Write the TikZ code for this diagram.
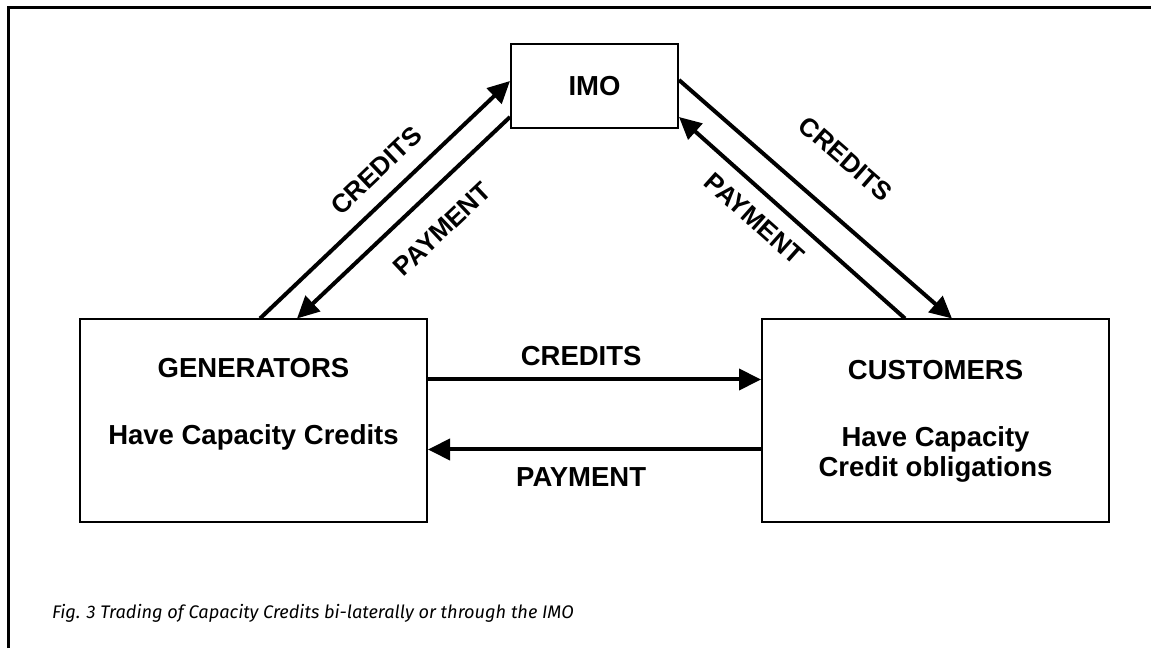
\documentclass[tikz,border=0pt]{standalone}
\usepackage{fontspec}
\setmainfont{Liberation Sans}
\newfontfamily\capfont{Fira Sans}
\usetikzlibrary{arrows.meta, positioning}

\begin{document}
\begin{tikzpicture}[
    x=1pt, y=1pt,
    >={Triangle[length=22pt, width=21pt]},
    on grid,
    font=\bfseries\fontsize{27.5}{30}\selectfont,
    party/.style={draw, line width=2pt, minimum width=347pt,
        minimum height=203pt, align=center},
    flow/.style={->, line width=4pt},
    tag/.style={inner sep=2pt},
    slanttag/.style={tag, sloped, font=\bfseries\fontsize{26}{30}\selectfont},
]
    \useasboundingbox (0,0) rectangle (1151,648);
    \draw[line width=2.5pt] (8.5,0) |- (1151,640.5);

    \node[party, minimum width=167pt, minimum height=84pt] (imo) at (594.5,562) {IMO};
    \node[party, below left =335pt and 341pt of imo] (gen)
        {GENERATORS\\[37pt]Have Capacity Credits\\\strut};
    \node[party, below right=335pt and 341pt of imo] (cust)
        {CUSTOMERS\\[37pt]Have Capacity\\Credit obligations};

    % trading through the IMO
    \draw[flow] ([xshift=6.5pt]gen.north) -- node[slanttag, above=14pt, pos=0.54] {CREDITS} ([yshift=5pt]imo.west);
    \draw[flow] ([yshift=-31pt]imo.west) -- node[slanttag, below=22pt, pos=0.43] {PAYMENT} ([xshift=43.5pt]gen.north);
    \draw[flow] ([yshift=6pt]imo.east) -- node[slanttag, above=37pt, pos=0.49] {CREDITS} ([xshift=16.5pt]cust.north);
    \draw[flow] ([xshift=-30.5pt]cust.north) -- node[slanttag, below=13pt, pos=0.59] {PAYMENT} ([yshift=-31pt]imo.east);

    % bi-lateral trading
    \draw[flow] ([yshift=41.5pt]gen.east) -- node[tag, above=10pt, pos=0.46] {CREDITS} ([yshift=41.5pt]cust.west);
    \draw[flow] ([yshift=-28.5pt]cust.west) -- node[tag, below=14pt, pos=0.54] {PAYMENT} ([yshift=-28.5pt]gen.east);

    \node[anchor=west, inner sep=0pt, font=\capfont\itshape\fontsize{18.2}{21}\selectfont] (caption) at (52,35)
        {Fig. 3 Trading of Capacity Credits bi-laterally or through the IMO};
\end{tikzpicture}
\end{document}
